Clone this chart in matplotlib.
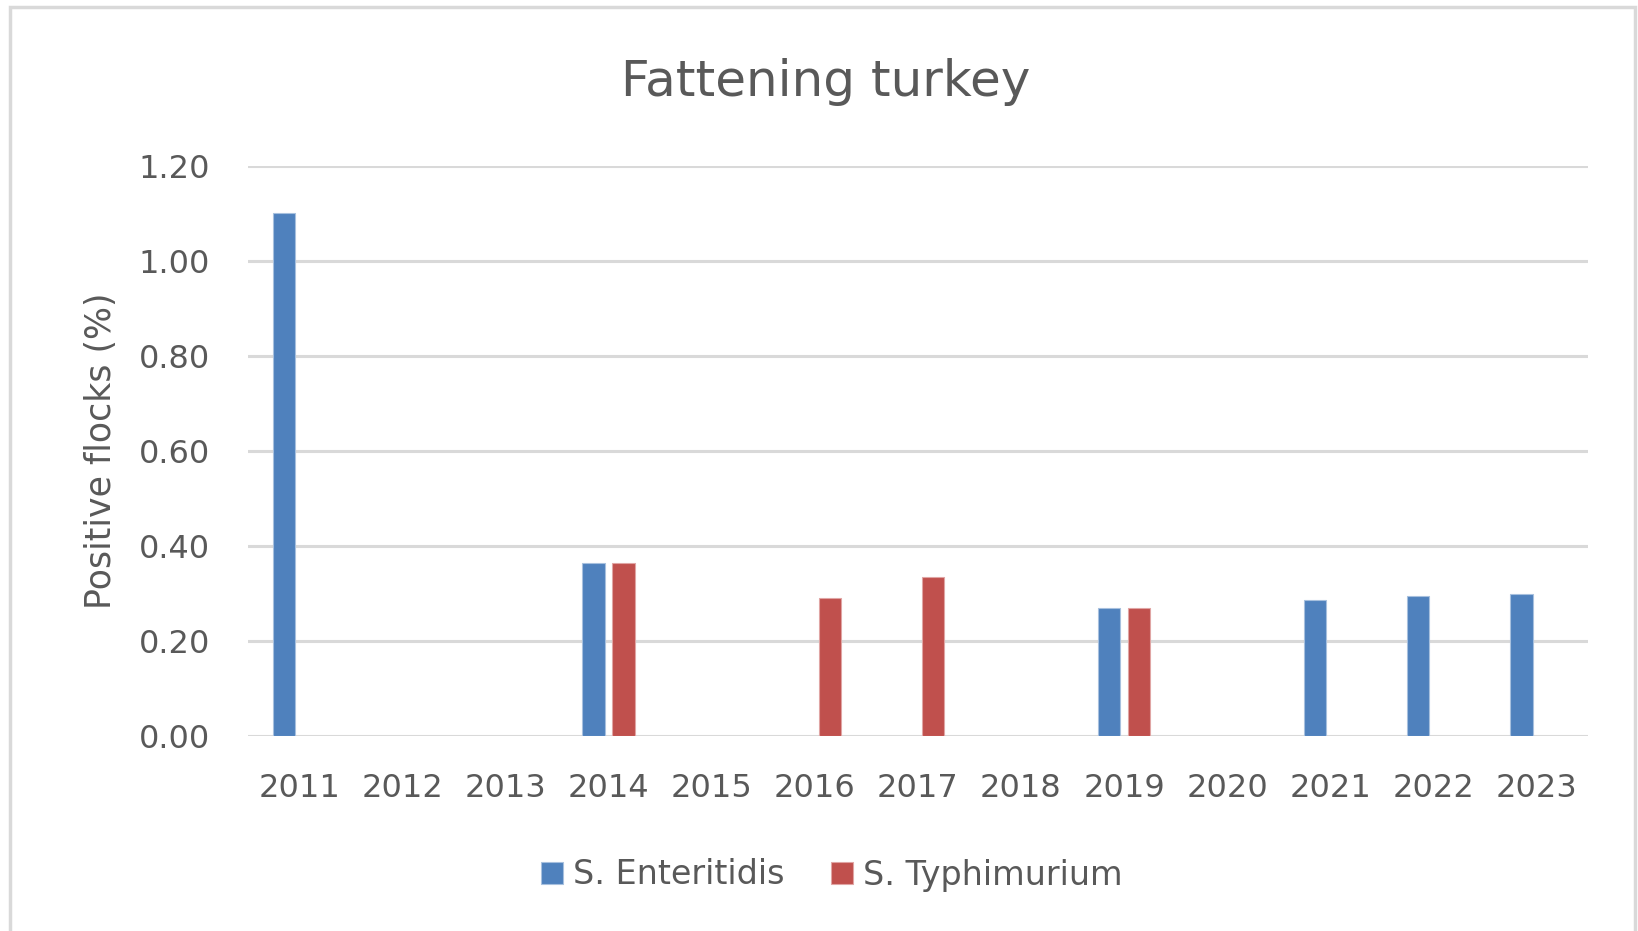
import numpy as np
import matplotlib.pyplot as plt
from matplotlib.patches import Rectangle

plt.rcParams['font.family'] = ['DejaVu Sans']

years = ['2011', '2012', '2013', '2014', '2015', '2016', '2017',
         '2018', '2019', '2020', '2021', '2022', '2023']
enteritidis = [1.10, 0, 0, 0.363, 0, 0, 0, 0, 0.268, 0, 0.285, 0.294, 0.299]
typhimurium = [0, 0, 0, 0.363, 0, 0.29, 0.335, 0, 0.268, 0, 0, 0, 0]

blue = '#4f81bd'
red = '#c0504d'
grey_txt = '#595959'
grid_col = '#d9d9d9'

W, H = 1638, 931
fig = plt.figure(figsize=(W / 100, H / 100), dpi=100)
ax = fig.add_axes([247.6 / W, 1 - 735.7 / H, (1588 - 247.6) / W, (735.7 - 166) / H])

x = np.arange(len(years))
w = 0.215
off = 0.145
# only draw non-zero bars, like the excel chart
xe = [i for i, v in enumerate(enteritidis) if v > 0]
xt = [i for i, v in enumerate(typhimurium) if v > 0]
ax.bar(x[xe] - off, [enteritidis[i] for i in xe], w, color=blue,
       edgecolor='#a7c0de', linewidth=0.8, label='S. Enteritidis', zorder=3)
ax.bar(x[xt] + off, [typhimurium[i] for i in xt], w, color=red,
       edgecolor='#e0a5a4', linewidth=0.8, label='S. Typhimurium', zorder=3)

ax.set_xlim(-0.5, len(years) - 0.5)
ax.set_ylim(0, 1.2)
yt = np.arange(0, 1.21, 0.2)
ax.set_yticks(yt)
ax.set_yticklabels(['%.2f' % v for v in yt])
ax.set_xticks(x)
ax.set_xticklabels(years)
ax.yaxis.grid(True, color=grid_col, linewidth=2.2, zorder=0)
ax.set_axisbelow(True)
for s in ax.spines.values():
    s.set_visible(False)
ax.tick_params(length=0, labelsize=23, colors=grey_txt)
ax.tick_params(axis='y', pad=27)
ax.tick_params(axis='x', pad=27)

ax.set_ylabel('Positive flocks (%)', fontsize=25, color=grey_txt)
ax.yaxis.set_label_coords(-0.097, 0.5)
fig.text(826 / W, 1 - 96 / H, 'Fattening turkey', ha='center', va='baseline',
         fontsize=36, color=grey_txt)

leg = fig.legend(loc='center', bbox_to_anchor=(832 / W, 1 - 875 / H), ncol=2,
                 frameon=False, fontsize=24, handlelength=0.65, handleheight=0.65,
                 handletextpad=0.3, columnspacing=1.4)
for t in leg.get_texts():
    t.set_color(grey_txt)

fig.patches.append(Rectangle((10 / W, -0.05), 1 - 13 / W, 1.05 - 7 / H,
                             transform=fig.transFigure, fill=False,
                             edgecolor='#d9d9d9', linewidth=2.5))

fig.savefig('out.png', dpi=100)
